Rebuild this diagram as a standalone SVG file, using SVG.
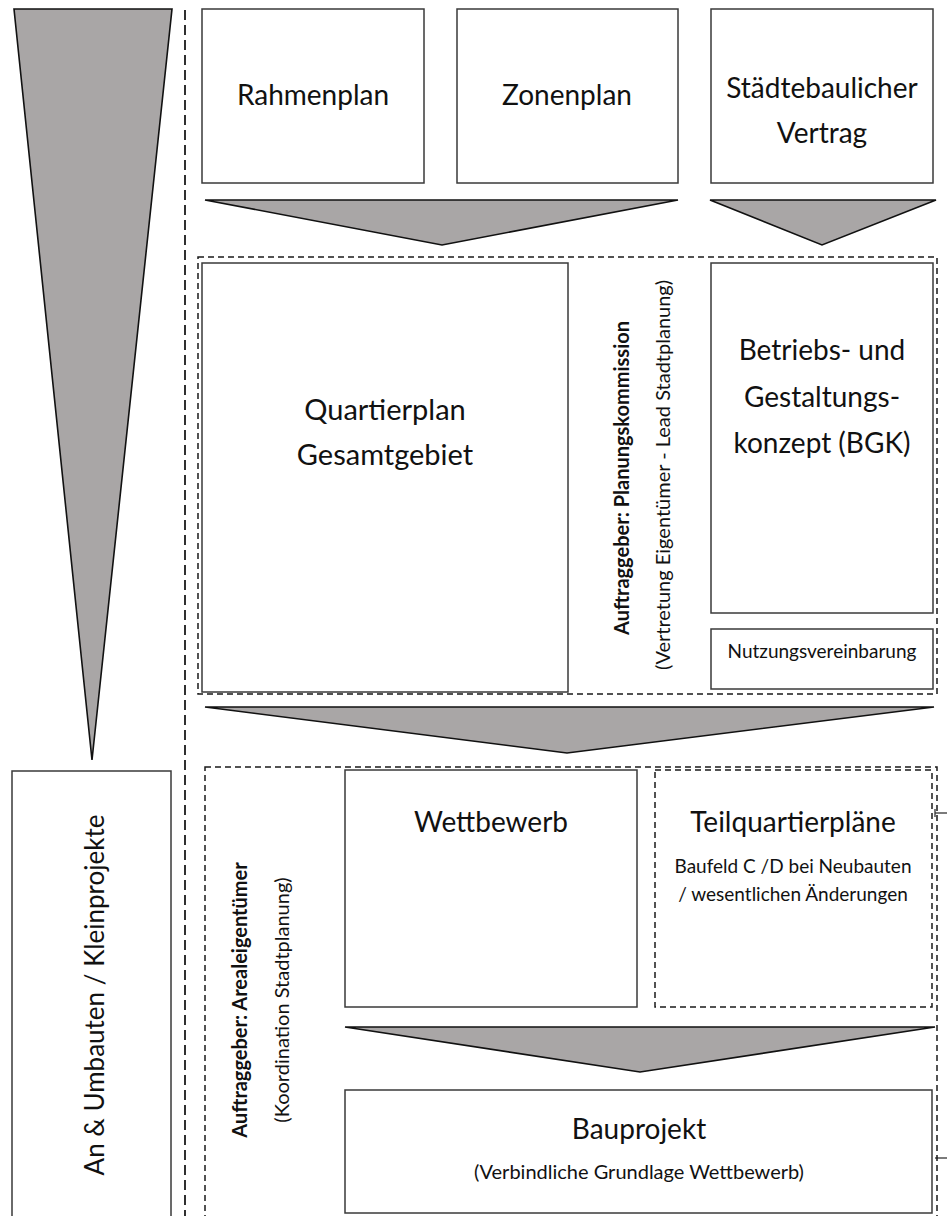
<svg xmlns="http://www.w3.org/2000/svg" width="947" height="1216" viewBox="0 0 947 1216">
<style>
.box{fill:#fff;stroke:#3a3a3a;stroke-width:1.5}
.dbox{fill:none;stroke:#1a1a1a;stroke-width:1.5;stroke-dasharray:6 4}
.tri{fill:#a9a6a6;stroke:#111;stroke-width:1.6;stroke-linejoin:miter}
.t{font-family:Lato,"Open Sans",sans-serif;fill:#111;text-anchor:middle}
.b{font-weight:bold}
</style>
<rect width="947" height="1216" fill="#fff"/>

<g id="funnel">
<polygon class="tri" points="14,9 172,9 92,760"/>
</g>
<line id="divider" x1="185" y1="10" x2="185" y2="1216" stroke="#1a1a1a" stroke-width="1.8" stroke-dasharray="10 5"/>

<g id="rahmenplan">
<rect class="box" x="202" y="9" width="222" height="174"/>
<text class="t" x="313" y="105" font-size="28">Rahmenplan</text>
</g>
<g id="zonenplan">
<rect class="box" x="457" y="9" width="221" height="174"/>
<text class="t" x="567" y="105" font-size="28">Zonenplan</text>
</g>
<g id="vertrag">
<rect class="box" x="711" y="9" width="222" height="174"/>
<text class="t" x="822" y="98" font-size="28">Städtebaulicher</text>
<text class="t" x="822" y="143" font-size="28">Vertrag</text>
</g>

<g id="connectors">
<polygon class="tri" points="205,200 678,200 442,245"/>
<polygon class="tri" points="710,200 936,200 822,245"/>
<polygon class="tri" points="205,707 934,707 567,753"/>
<polygon class="tri" points="345,1027 935,1027 640,1072"/>
<line x1="935" y1="813" x2="947" y2="813" stroke="#333" stroke-width="1.3"/>
<line x1="935" y1="809" x2="935" y2="817" stroke="#333" stroke-width="1.3"/>
<line x1="935" y1="1158" x2="947" y2="1158" stroke="#333" stroke-width="1.3"/>
</g>

<g id="planungsgruppe">
<rect class="dbox" x="198" y="257" width="739" height="437"/>
<text class="t b" font-size="20" transform="translate(629,478) rotate(-90)">Auftraggeber: Planungskommission</text>
<text class="t" font-size="20" transform="translate(670,475) rotate(-90)">(Vertretung Eigentümer - Lead Stadtplanung)</text>
</g>
<g id="quartierplan">
<rect class="box" x="202" y="263" width="366" height="429"/>
<text class="t" x="385" y="420" font-size="29">Quartierplan</text>
<text class="t" x="385" y="465" font-size="29">Gesamtgebiet</text>
</g>
<g id="bgk">
<rect class="box" x="711" y="263" width="222" height="350"/>
<text class="t" x="822" y="360" font-size="28">Betriebs- und</text>
<text class="t" x="822" y="407" font-size="28">Gestaltungs-</text>
<text class="t" x="822" y="453" font-size="28">konzept (BGK)</text>
</g>
<g id="nutzung">
<rect class="box" x="711" y="629" width="222" height="60"/>
<text class="t" x="822" y="658" font-size="19">Nutzungsvereinbarung</text>
</g>

<g id="an-umbauten">
<rect class="box" x="12" y="771" width="159" height="450"/>
<text class="t" font-size="26" transform="translate(104,995) rotate(-90)">An &amp; Umbauten / Kleinprojekte</text>
</g>

<g id="arealgruppe">
<rect class="dbox" x="205" y="767" width="732" height="460"/>
<text class="t b" font-size="20" transform="translate(247,1000) rotate(-90)">Auftraggeber: Arealeigentümer</text>
<text class="t" font-size="20" transform="translate(289,1000) rotate(-90)">(Koordination Stadtplanung)</text>
</g>
<g id="wettbewerb">
<rect class="box" x="345" y="770" width="292" height="237"/>
<text class="t" x="491" y="832" font-size="28">Wettbewerb</text>
</g>
<g id="teilquartierplaene">
<rect class="dbox" x="655" y="770" width="277" height="237"/>
<text class="t" x="793" y="832" font-size="28">Teilquartierpläne</text>
<text class="t" x="793" y="873" font-size="19">Baufeld C /D bei Neubauten</text>
<text class="t" x="793" y="901" font-size="19">/ wesentlichen Änderungen</text>
</g>
<g id="bauprojekt">
<rect class="box" x="345" y="1090" width="587" height="123"/>
<text class="t" x="639" y="1139" font-size="28">Bauprojekt</text>
<text class="t" x="639" y="1179" font-size="20">(Verbindliche Grundlage Wettbewerb)</text>
</g>
</svg>
